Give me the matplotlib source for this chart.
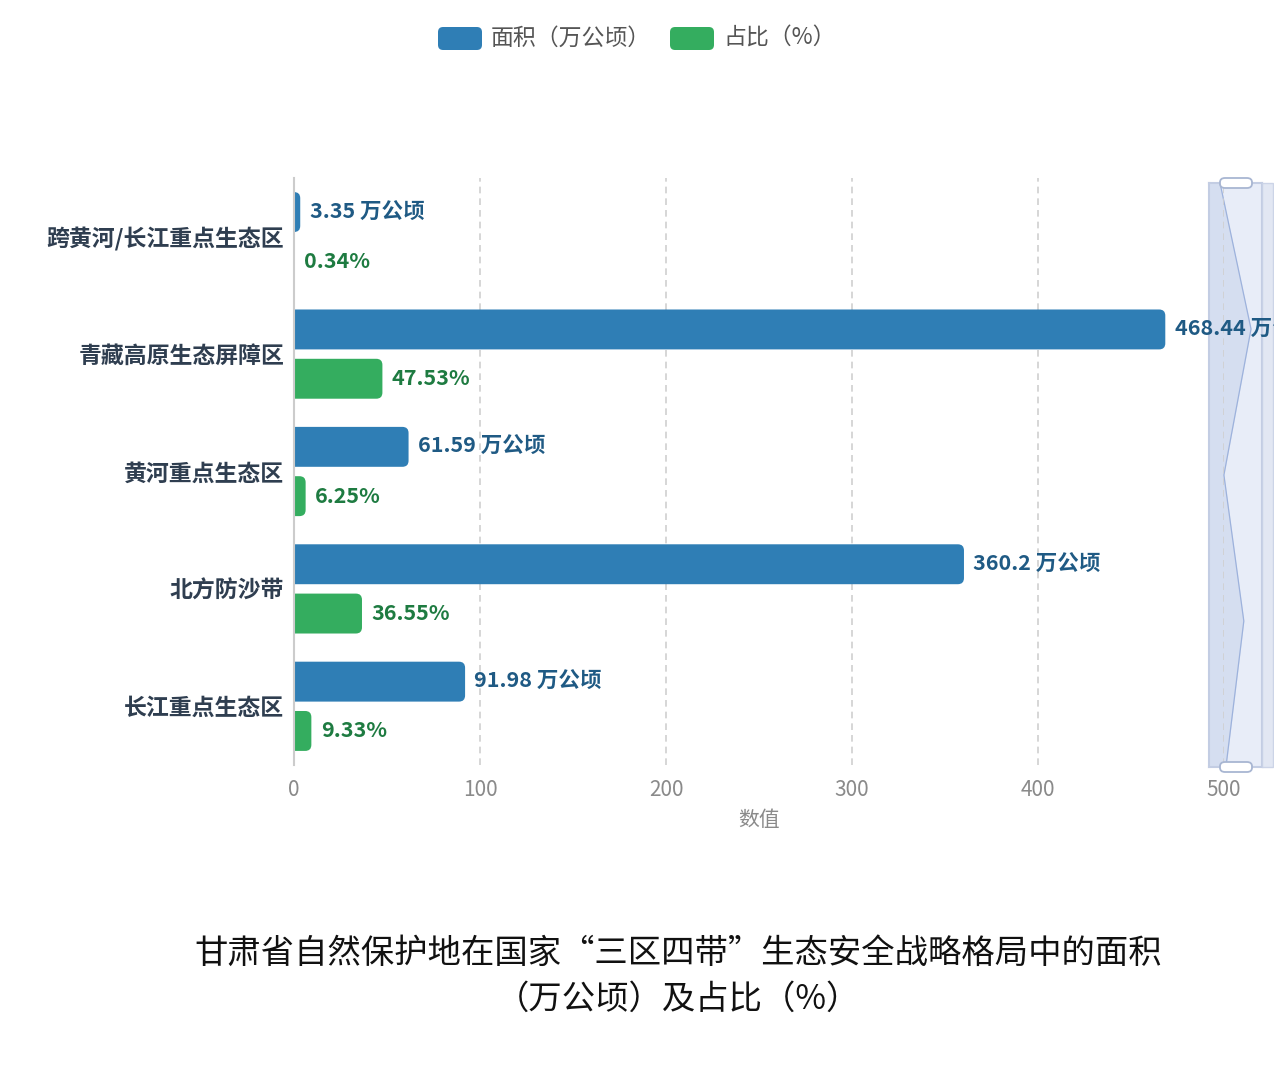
import matplotlib
matplotlib.use("Agg")
import matplotlib.pyplot as plt
from matplotlib.patches import FancyBboxPatch, Rectangle
import numpy as np

plt.rcParams['font.family'] = ['Noto Sans CJK SC', 'DejaVu Sans']

categories = ["跨黄河/长江重点生态区", "青藏高原生态屏障区", "黄河重点生态区", "北方防沙带", "长江重点生态区"]
area = [3.35, 468.44, 61.59, 360.2, 91.98]
share = [0.34, 47.53, 6.25, 36.55, 9.33]
series_names = ["面积（万公顷）", "占比（%）"]
xticks = [0, 100, 200, 300, 400, 500]
xlabel = "数值"
title = "甘肃省自然保护地在国家“三区四带”生态安全战略格局中的面积\n（万公顷）及占比（%）"

BLUE = "#2f7eb5"
GREEN = "#34ad5f"
W, H = 1274, 1069
fig = plt.figure(figsize=(W / 100, H / 100), dpi=100)
fig.patch.set_facecolor("white")

def fx(px):
    return px / W

def fy(py):
    return 1 - py / H

ax = fig.add_axes([fx(294), fy(765), fx(1224) - fx(294), fy(178) - fy(765)])
ax.set_zorder(3)
ax.patch.set_alpha(0)
ax.set_xlim(0, 500)
ax.set_ylim(4.5, -0.5)

y = np.arange(len(categories))
off = 0.21
h = 0.34
rx = 3.3  # rounding in x data units
aspect = (1 / 117.4) / (1 / 1.86)

def rounded_bars(vals, ypos, color):
    bars = ax.barh(ypos, vals, height=h, color=color, alpha=0)
    for b in bars:
        x0, y0 = b.get_x(), b.get_y()
        w, hh = b.get_width(), b.get_height()
        p = FancyBboxPatch((x0 - rx, y0), w + rx, hh,
                           boxstyle=f"round,pad=0,rounding_size={rx}",
                           mutation_aspect=aspect, facecolor=color,
                           edgecolor="none", zorder=3, clip_on=True)
        ax.add_patch(p)
    return bars

rounded_bars(area, y - off, BLUE)
rounded_bars(share, y + off, GREEN)

for i in range(len(categories)):
    ax.text(area[i] + 5, y[i] - off, f"{area[i]:g} 万公顷", va="center", ha="left",
            fontsize=15.5, fontweight="bold", color="#1f5a84", zorder=4, clip_on=False)
    ax.text(share[i] + 5, y[i] + off, f"{share[i]:.2f}%", va="center", ha="left",
            fontsize=15.5, fontweight="bold", color="#1e7b41", zorder=4, clip_on=False)

ax.set_yticks(y)
ax.set_yticklabels(categories, fontsize=16.5, fontweight="bold", color="#2f3e50")
ax.tick_params(axis="y", length=0, pad=7)
ax.set_xticks(xticks)
ax.set_xticklabels([str(t) for t in xticks], fontsize=15, color="#8a8a8a")
ax.tick_params(axis="x", length=0, pad=10)
ax.set_xlabel(xlabel, fontsize=15, color="#8a8a8a", labelpad=6)
ax.grid(axis="x", linestyle=(0, (4, 3)), color="#cfcfcf", linewidth=1.2, zorder=0)
ax.set_axisbelow(True)
for s in ["top", "right", "bottom"]:
    ax.spines[s].set_visible(False)
ax.spines["left"].set_color("#cccccc")
ax.spines["left"].set_linewidth(1.5)
ax.spines["left"].set_zorder(5)

# data-zoom slider with data shadow
sax = fig.add_axes([fx(1209), fy(767), fx(1262) - fx(1209), fy(183) - fy(767)])
sax.set_zorder(1)
sax.set_xlim(-162, 633)
sax.set_ylim(len(categories) - 1, 0)
sax.set_facecolor("#e8edf8")
for s in sax.spines.values():
    s.set_color("#c3cde3")
    s.set_linewidth(1.5)
sax.set_xticks([])
sax.set_yticks([])
sax.fill_betweenx(y, -162, area, color="#d3ddf0", alpha=0.9, linewidth=0)
sax.plot(area, y, color="#9db2dc", linewidth=0.9)
fig.patches.append(Rectangle((fx(1262), fy(767)), fx(1273) - fx(1262), fy(183) - fy(767),
                             transform=fig.transFigure, facecolor="#dfe5f2", edgecolor="#c8d1e6",
                             linewidth=1, alpha=0.9, zorder=1))
for py in (183, 767):
    fig.patches.append(FancyBboxPatch((fx(1220), fy(py + 5)), fx(1252) - fx(1220), fy(py - 5) - fy(py + 5),
                                      boxstyle="round,pad=0,rounding_size=0.004",
                                      transform=fig.transFigure, facecolor="white",
                                      edgecolor="#a8b6d2", linewidth=1.3, zorder=10))

# legend
lx = [438, 670]
for i, (name, col) in enumerate(zip(series_names, [BLUE, GREEN])):
    fig.patches.append(FancyBboxPatch((fx(lx[i]), fy(50)), fx(44), 23 / H,
                                      boxstyle="round,pad=0,rounding_size=0.004",
                                      mutation_aspect=W / H,
                                      transform=fig.transFigure, facecolor=col, edgecolor="none"))
    fig.text(fx(lx[i] + 53), fy(38.5), name, fontsize=16.5, color="#555555", va="center", ha="left")

fig.text(fx(678), fy(976), title, fontsize=24, color="#111111", ha="center", va="center",
         linespacing=1.4)

fig.savefig("out.png", dpi=100, facecolor="white")
